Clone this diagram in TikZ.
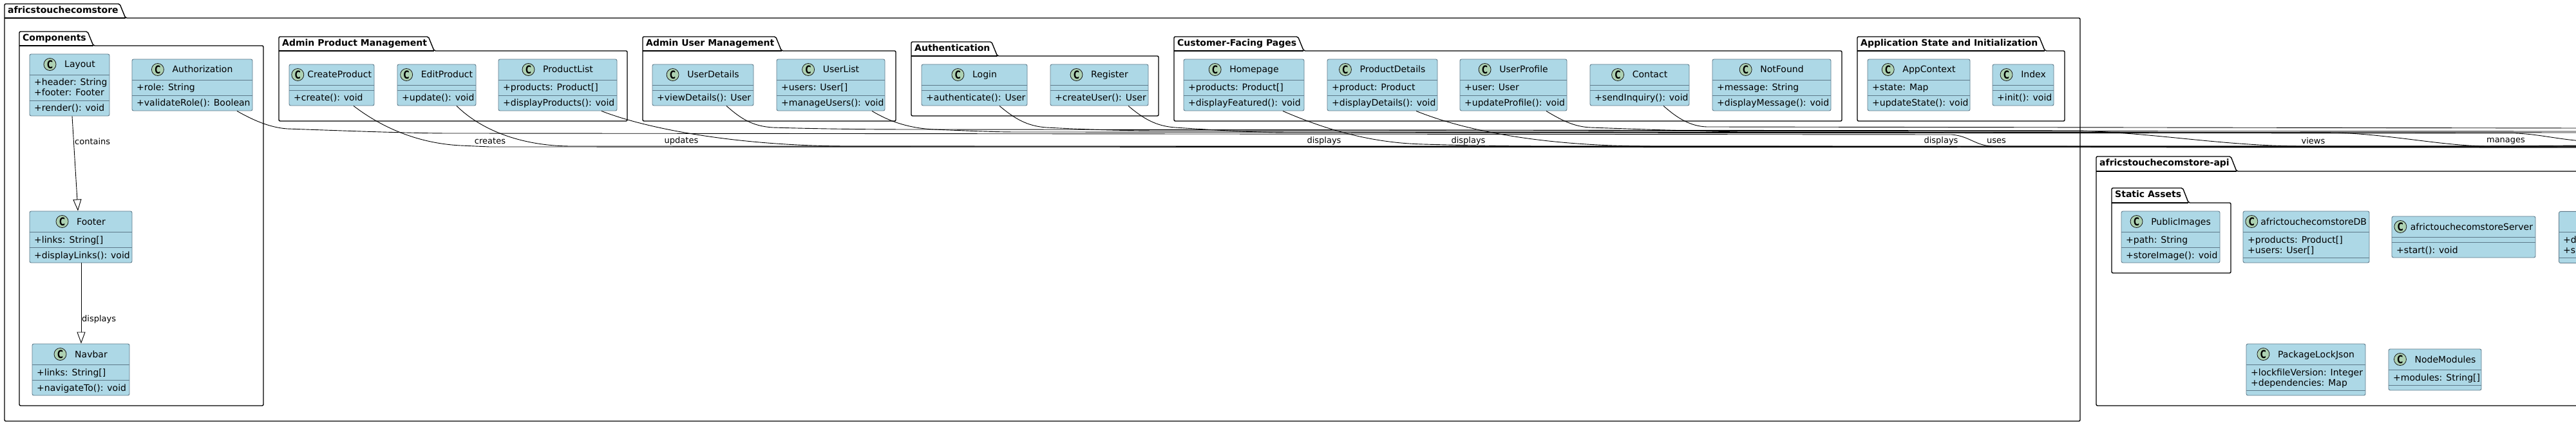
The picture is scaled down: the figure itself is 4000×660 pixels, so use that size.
\documentclass[tikz,border=0pt]{standalone}
\usepackage{fontspec}
\usepackage{graphicx}
\setmainfont{DejaVu Sans}
\usetikzlibrary{arrows.meta,calc}
\definecolor{clsfill}{HTML}{ADD8E6}
\definecolor{clsborder}{HTML}{5E7A8A}
\definecolor{circfill}{HTML}{ADD1B2}
\definecolor{circborder}{HTML}{181818}
\newsavebox\clsbx
\newcommand\clsfont{\fontsize{14}{16}\selectfont}
\tikzset{
  clsbox/.style={draw=clsborder, fill=clsfill, line width=0.9pt, rounded corners=2.5pt, inner sep=0pt, rectangle},
  clsline/.style={draw=clsborder, line width=0.9pt},
  clscirc/.style={circle, draw=circborder, fill=circfill, line width=0.8pt, minimum size=19pt, inner sep=0pt, font=\fontsize{17}{17}\selectfont\bfseries},
  clstxt/.style={inner sep=0pt, font=\clsfont},
  pkglbl/.style={inner sep=0pt, font=\fontsize{14}{14}\selectfont\bfseries},
  pkgline/.style={draw=black, line width=1.4pt, rounded corners=2pt},
  elbl/.style={inner sep=0pt, font=\fontsize{13}{13}\selectfont},
  conn/.style={draw=black, line width=0.9pt},
  inh/.style={draw=black, line width=0.9pt, -{Triangle[open, length=18pt, width=13pt]}}
}
% title content: width of box (number), title; leaves room for the circle on the left
\newcommand\clstitle[2]{%
  \sbox\clsbx{#2}%
  \dimen0=#1pt\advance\dimen0 by -27pt\advance\dimen0 by -\wd\clsbx
  \ifdim\dimen0>13pt\dimen0=13pt\fi
  \hspace*{\dimexpr19pt+\dimen0\relax}#2}
% class: name, x1, x2, ycenter, title, #attrs, attrs, #methods, methods
\newcommand\cls[9]{%
  \pgfmathsetmacro\cA{ifthenelse(#6==0,8,8+16*#6)}%
  \pgfmathsetmacro\cM{ifthenelse(#8==0,8,8+16*#8)}%
  \pgfmathsetmacro\cH{32+\cA+\cM}%
  \pgfmathsetmacro\cT{#4-\cH/2}%
  \pgfmathsetmacro\cW{#3-#2}%
  \pgfmathsetmacro\cX{(#2+#3)/2}%
  \pgfmathsetmacro\cSa{\cT+32}%
  \pgfmathsetmacro\cSb{\cT+32+\cA}%
  \node[clsbox, minimum width=\cW pt, minimum height=\cH pt] (#1) at (\cX,#4) {};%
  \draw[clsline] (#2,\cSa) -- (#3,\cSa) (#2,\cSb) -- (#3,\cSb);%
  \node[clstxt, anchor=base] (#1-n) at (\cX,\cT+21) {\clstitle{\cW}{#5}};%
  \node[clscirc] (#1-c) at ([xshift=9.5pt,yshift=5pt]#1-n.base west) {\scalebox{0.72}[1]{C}};%
  \ifnum#6>0 \foreach \itm [count=\ii] in {#7} {\node[clstxt, anchor=base west] at (#2+7,\cSa+1+16*\ii) {\itm};}\fi
  \ifnum#8>0 \foreach \itm [count=\ii] in {#9} {\node[clstxt, anchor=base west] at (#2+7,\cSb+1+16*\ii) {\itm};}\fi
}
% package: name, x1, tabTop, bodyTop, x2, bottom, label
\newcommand\pkg[7]{%
  \node[pkglbl, anchor=base west] (#1-l) at (#2+5,#3+15) {#7};%
  \draw[pkgline] let \p1=(#1-l.east) in (#2pt,-#4pt) -- (#2pt,-#3pt) -- (\x1+2pt,-#3pt) -- (\x1+11pt,-#4pt) -- (#5pt,-#4pt) -- (#5pt,-#6pt) -- (#2pt,-#6pt) -- cycle;%
  \draw[pkgline] let \p1=(#1-l.east) in (#2pt,-#4pt) -- (\x1+11pt,-#4pt);%
}
\begin{document}
\begin{tikzpicture}[x=1pt,y=-1pt]
\useasboundingbox (0,0) rectangle (4000,660);
\fill[white] (0,0) rectangle (4000,660);
\clip (0,0) rectangle (4000,660);

% packages
\pkg{outer}{7}{6}{28}{3230}{654}{africstouchecomstore}
\pkg{comp}{30}{49}{71}{409}{630}{Components}
\pkg{apm}{433}{57}{79}{974}{188}{Admin Product Management}
\pkg{aum}{998}{57}{79}{1391}{188}{Admin User Management}
\pkg{auth}{1415}{65}{87}{1799}{180}{Authentication}
\pkg{cfp}{1823}{57}{79}{2860}{188}{Customer-Facing Pages}
\pkg{asi}{2884}{57}{79}{3206}{188}{Application State and Initialization}
\pkg{api}{3255}{243}{266}{4100}{630}{africstouchecomstore-api}
\pkg{sa}{3279}{292}{315}{3464}{424}{Static Assets}

% classes, top row
\cls{Layout}{46}{170}{132}{Layout}{2}{{+header: String},{+footer: Footer}}{1}{{+render(): void}}
\cls{Authorization}{205}{392}{132}{Authorization}{1}{{+role: String}}{1}{{+validateRole(): Boolean}}
\cls{CreateProduct}{449}{581}{132}{CreateProduct}{0}{}{1}{{+create(): void}}
\cls{EditProduct}{617}{739}{132}{EditProduct}{0}{}{1}{{+update(): void}}
\cls{ProductList}{774}{958}{132}{ProductList}{1}{{+products: Product[]}}{1}{{+displayProducts(): void}}
\cls{UserDetails}{1013}{1170}{132}{UserDetails}{0}{}{1}{{+viewDetails(): User}}
\cls{UserList}{1206}{1374}{132}{UserList}{1}{{+users: User[]}}{1}{{+manageUsers(): void}}
\cls{Login}{1431}{1595}{132}{Login}{0}{}{1}{{+authenticate(): User}}
\cls{Register}{1631}{1783}{132}{Register}{0}{}{1}{{+createUser(): User}}
\cls{Homepage}{1838}{2025}{132}{Homepage}{1}{{+products: Product[]}}{1}{{+displayFeatured(): void}}
\cls{ProductDetails}{2061}{2232}{132}{ProductDetails}{1}{{+product: Product}}{1}{{+displayDetails(): void}}
\cls{UserProfile}{2267}{2433}{132}{UserProfile}{1}{{+user: User}}{1}{{+updateProfile(): void}}
\cls{Contact}{2469}{2623}{132}{Contact}{0}{}{1}{{+sendInquiry(): void}}
\cls{NotFound}{2659}{2843}{132}{NotFound}{1}{{+message: String}}{1}{{+displayMessage(): void}}
\cls{AppContext}{2900}{3059}{132}{AppContext}{1}{{+state: Map}}{1}{{+updateState(): void}}
\cls{Index}{3094}{3189}{132}{Index}{0}{}{1}{{+init(): void}}

% second row
\cls{Footer}{46}{205}{368}{Footer}{1}{{+links: String[]}}{1}{{+displayLinks(): void}}
\cls{PublicImages}{3294}{3447}{368}{PublicImages}{1}{{+path: String}}{1}{{+storeImage(): void}}
\cls{DB}{3483}{3679}{368}{africtouchecomstoreDB}{2}{{+products: Product[]},{+users: User[]}}{0}{}
\cls{Server}{3714}{3937}{368}{africtouchecomstoreServer}{0}{}{1}{{+start(): void}}
\node[clsbox, minimum width=140pt, minimum height=80pt, anchor=north west] (Partial) at (3973,328) {};
\draw[clsline] (Partial.west |- 0,360) -- (4113,360) (Partial.west |- 0,400) -- (4113,400);
\node[clstxt, anchor=base west] (Partial-a) at (3980,377) {+d};
\node[clstxt, anchor=base west] (Partial-b) at (3980,393) {+s};

% third row
\cls{Navbar}{50}{201}{574}{Navbar}{1}{{+links: String[]}}{1}{{+navigateTo(): void}}
\cls{PackageLockJson}{3488}{3673}{574}{PackageLockJson}{2}{{+lockfileVersion: Integer},{+dependencies: Map}}{0}{}
\cls{NodeModules}{3709}{3853}{574}{NodeModules}{1}{{+modules: String[]}}{0}{}

% inheritance connectors
\draw[inh] (112,0 |- Layout.south) -- (121,0 |- Footer.north);
\node[elbl, anchor=west] (lContains) at (116,220) {contains};
\draw[inh] (126,0 |- Footer.south) -- (126,0 |- Navbar.north);
\node[elbl, anchor=west] (lDisplaysNav) at (127,496) {displays};

% free ends of the connectors that leave the picture
\coordinate (eAuth) at (4010,227);
\coordinate (eCP) at (4010,229);
\coordinate (eEP) at (4010,228);
\coordinate (ePL) at (4010,227);
\coordinate (eUD) at (4010,227);
\coordinate (eUL) at (4010,226);
\coordinate (eLogin) at (4010,204);
\coordinate (eReg) at (4010,219);
\coordinate (eHome) at (4010,229);
\coordinate (ePD) at (4010,228);
\coordinate (eUP) at (4010,206);
\coordinate (eContact) at (4010,199);

\draw[conn] (368,0 |- Authorization.south) .. controls (392,186) and (418,198) .. (446,200) .. controls (560,204) and (640,207) .. (700,207) -- (3030,209) .. controls (3058,211) and (3068,227) .. (3095,227) -- (eAuth);
\draw[conn] (549,0 |- CreateProduct.south) .. controls (585,192) and (640,222) .. (715,226) -- (760,228) -- (eCP);
\draw[conn] (709,0 |- EditProduct.south) .. controls (745,200) and (805,226) .. (884,227) -- (eEP);
\draw[conn] (934,0 |- ProductList.south) .. controls (1010,202) and (1150,226) .. (1310,227) -- (ePL);
\draw[conn] (1128,0 |- UserDetails.south) .. controls (1150,184) and (1168,196) .. (1200,198) .. controls (1300,201) and (1380,201) .. (1440,201) -- (3230,203) .. controls (3360,208) and (3450,226) .. (3570,227) -- (eUD);
\draw[conn] (1354,0 |- UserList.south) .. controls (1380,188) and (1410,199) .. (1450,201) .. controls (1500,203) and (1540,205) .. (1580,205) -- (3630,206) .. controls (3720,210) and (3790,226) .. (3860,227) -- (eUL);
\draw[conn] (1552,0 |- Login.south) .. controls (1575,184) and (1595,196) .. (1625,198) .. controls (1700,202) and (1760,203) .. (1800,203) -- (eLogin);
\draw[conn] (1752,0 |- Register.south) .. controls (1775,184) and (1795,196) .. (1825,198) .. controls (1900,203) and (1960,206) .. (2000,206) -- (3905,207) .. controls (3940,208) and (3970,216) .. (eReg);
\draw[conn] (1992,0 |- Homepage.south) .. controls (2060,202) and (2130,222) .. (2210,224) .. controls (2280,226) and (2340,227) .. (2400,227) -- (eHome);
\draw[conn] (2199,0 |- ProductDetails.south) .. controls (2280,205) and (2400,226) .. (2552,227) -- (ePD);
\draw[conn] (2401,0 |- UserProfile.south) .. controls (2425,187) and (2445,197) .. (2470,198) .. controls (2580,202) and (2650,204) .. (2700,205) -- (eUP);
\draw[conn] (2583,0 |- Contact.south) .. controls (2605,184) and (2625,196) .. (2650,197) -- (eContact);

% connector labels
\node[elbl] (lCreates) at (761,219) {creates};
\node[elbl] (lUpdates) at (1058,219) {updates};
\node[elbl] (lDisp1) at (2056,219) {displays};
\node[elbl] (lDisp2) at (2280,219) {displays};
\node[elbl] (lDisp3) at (3014,219) {displays};
\node[elbl] (lUses) at (3100,219) {uses};
\node[elbl] (lViews) at (3592,219) {views};
\node[elbl] (lManages) at (3891,219) {manages};
\end{tikzpicture}
\end{document}
